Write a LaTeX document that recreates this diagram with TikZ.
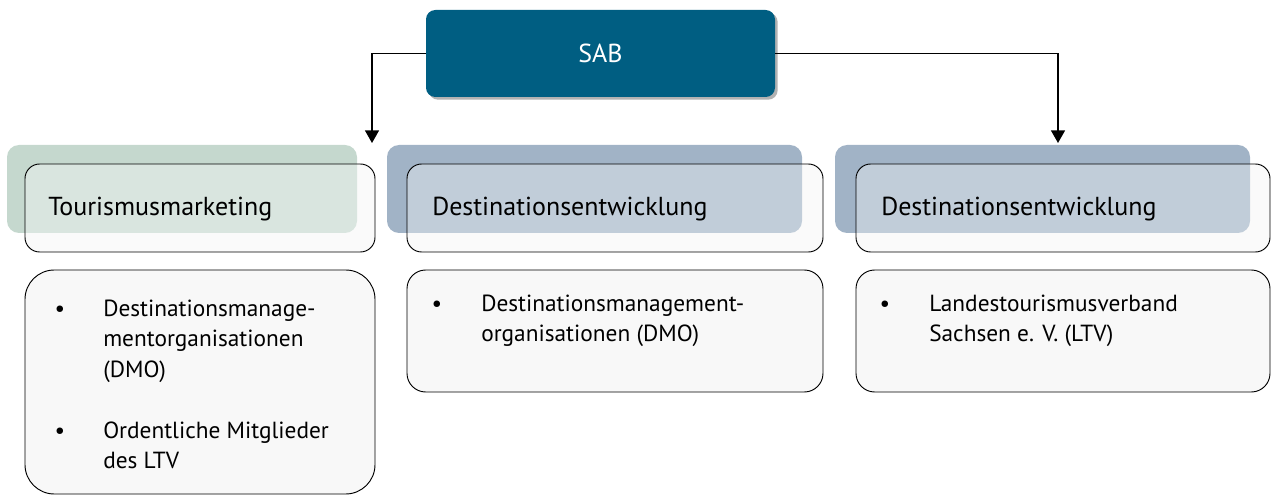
\documentclass[tikz,border=0pt]{standalone}
\usepackage{fontspec}
\setmainfont{PT Sans}
\usetikzlibrary{arrows.meta,shadows}
\definecolor{sabblue}{HTML}{005E82}
\definecolor{bggreen}{HTML}{C5D8CE}
\definecolor{bgblue}{HTML}{A1B3C6}
\definecolor{boxfill}{HTML}{F8F8F8}
\newcommand{\lines}[1]{\begin{tabular}[t]{@{}l@{}}#1\end{tabular}}
\tikzset{
  sabbox/.style={fill=sabblue, rounded corners=7pt, text=white, font=\fontsize{19.5}{22}\selectfont,
    drop shadow={shadow xshift=2pt, shadow yshift=-2pt, opacity=0.3, fill=black}},
  bgbox/.style={rounded corners=9pt, inner sep=0pt, minimum width=#1},
  frontbase/.style={fill=boxfill, rounded corners=11pt, inner sep=0pt, minimum height=66pt},
  frontbox/.style={draw=black, line width=0.7pt, fill=white, fill opacity=0.35, rounded corners=11pt, inner sep=0pt, minimum height=66pt},
  botbox/.style={draw=black, line width=0.7pt, fill=boxfill, inner sep=0pt},
  head/.style={anchor=base west, inner sep=0pt, font=\fontsize{19.5}{22}\selectfont},
  item/.style={anchor=base west, inner sep=0pt, font=\fontsize{17.5}{23}\selectfont},
  bul/.style={anchor=base, inner sep=0pt, font=\fontsize{17.5}{23}\selectfont},
  conn/.style={line width=1.1pt, -{Triangle[width=10.5pt,length=9.5pt]}}
}
\begin{document}
\begin{tikzpicture}[x=0.75pt,y=-0.75pt]
\useasboundingbox (0,0) rectangle (1271,495);
% SAB
\node[sabbox, minimum width=261.75pt, minimum height=65.25pt] (sab) at (600.5,53.5) {SAB};
% opaque base of the header boxes
\path node[frontbase, minimum width=262.5pt] (f1base) at (200,208) {}
      node[frontbase, minimum width=312pt] (f2base) at (615,208) {}
      node[frontbase, minimum width=310.5pt] (f3base) at (1063,208) {};
\node[bgbox=262.5pt, fill=bggreen, minimum height=66pt] (bg1) at (182,189) {};
\node[bgbox=311.25pt, fill=bgblue, minimum height=66pt] (bg2) at (594.5,189) {};
\node[bgbox=311.25pt, fill=bgblue, minimum height=66pt] (bg3) at (1042.5,189) {};
\node[frontbox, minimum width=262.5pt] (f1) at (200,208) {};
\node[frontbox, minimum width=312pt] (f2) at (615,208) {};
\node[frontbox, minimum width=310.5pt] (f3) at (1063,208) {};
\node[head] (h1) at (48,216) {Tourismusmarketing};
\node[head] (h2) at (432,216) {Destinationsentwicklung};
\node[head] (h3) at (881,216) {Destinationsentwicklung};
% bottom boxes
\node[botbox, rounded corners=22pt, minimum width=262.5pt, minimum height=168pt] (b1) at (200,382) {};
\node[botbox, rounded corners=14pt, minimum width=312pt, minimum height=91.5pt] (b2) at (615,331) {};
\node[botbox, rounded corners=14pt, minimum width=310.5pt, minimum height=91.5pt] (b3) at (1063,331) {};
% bullets and items
\node[bul] (u1a) at (60,316) {•};
\node[item] (t1a) at (103,316) {\lines{Destinationsmanage-\\mentorganisationen\\(DMO)}};
\node[bul] (u1b) at (60,438) {•};
\node[item] (t1b) at (103,438) {\lines{Ordentliche Mitglieder\\des LTV}};
\node[bul] (u2) at (437,311) {•};
\node[item] (t2) at (481,311) {\lines{Destinationsmanagement-\\organisationen (DMO)}};
\node[bul] (u3) at (885,311) {•};
\node[item] (t3) at (929,311) {\lines{Landestourismusverband\\Sachsen e. V. (LTV)}};
% connectors
\coordinate (a1) at (372,143);
\coordinate (a3) at (1058,143);
\draw[conn] (sab.west) -| (a1);
\draw[conn] (sab.east) -| (a3);
\end{tikzpicture}
\end{document}
